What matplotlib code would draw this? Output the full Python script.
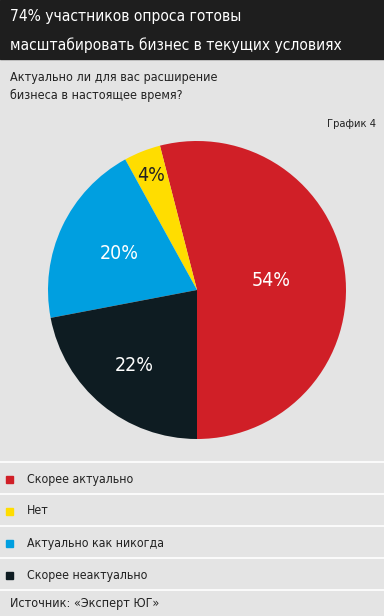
import numpy as np
import matplotlib.pyplot as plt
from matplotlib.patches import Rectangle

plt.rcParams['font.family'] = ['DejaVu Sans']
plt.rcParams['font.stretch'] = 'condensed'

title = "74% участников опроса готовы\nмасштабировать бизнес в текущих условиях"
question = "Актуально ли для вас расширение\nбизнеса в настоящее время?"
chart_no = "График 4"
source = "Источник: «Эксперт ЮГ»"

categories = ["Скорее актуально", "Нет", "Актуально как никогда", "Скорее неактуально"]
shares = [54, 4, 20, 22]
colors = ["#d01f27", "#ffdd00", "#009fe0", "#0e1c22"]
label_colors = ["white", "#222222", "white", "white"]
label_dist = [0.5, 0.83, 0.58, 0.66]

W, H = 384, 616
fig = plt.figure(figsize=(W / 100, H / 100), dpi=100)
fig.patch.set_facecolor("#e4e4e4")

# фон, заголовок и легенда рисуются в пикселях
bg = fig.add_axes([0, 0, 1, 1])
bg.set_xlim(0, W)
bg.set_ylim(H, 0)
bg.axis("off")
bg.add_patch(Rectangle((0, 0), W, 59, color="#1e1e1e"))
bg.text(10, 17, title.split("\n")[0], color="white", fontsize=11.2, va="center")
bg.text(10, 45, title.split("\n")[1], color="white", fontsize=11.2, va="center")
bg.text(10, 77, question.split("\n")[0], color="#222222", fontsize=9, va="center")
bg.text(10, 95, question.split("\n")[1], color="#222222", fontsize=9, va="center")
bg.text(376, 124, chart_no, color="#222222", fontsize=8, va="center", ha="right")

for y in [462, 494, 526, 558, 590]:
    bg.plot([0, W], [y, y], color="white", lw=1.2)

for i, (cat, c) in enumerate(zip(categories, colors)):
    y = 479 + i * 32
    bg.add_patch(Rectangle((6, y - 3.5), 7, 7, color=c))
    bg.text(27, y, cat, color="#222222", fontsize=8.8, va="center")
bg.text(10, 604, source, color="#222222", fontsize=9, va="center")

# круговая диаграмма
ax = fig.add_axes([48 / W, (H - 439) / H, 298 / W, 298 / H])
wedges, texts = ax.pie(shares, colors=colors, startangle=-90, counterclock=True,
                       labels=[f"{s}%" for s in shares], labeldistance=0.5,
                       textprops=dict(fontsize=14))
for t, w, lc, d in zip(texts, wedges, label_colors, label_dist):
    t.set_color(lc)
    mid = np.deg2rad((w.theta1 + w.theta2) / 2)
    t.set_position((d * np.cos(mid), d * np.sin(mid)))
    t.set_ha("center")
    t.set_va("center")
ax.set_xlim(-1, 1)
ax.set_ylim(-1, 1)
ax.set_aspect("equal")

plt.savefig("out.png", dpi=100)
